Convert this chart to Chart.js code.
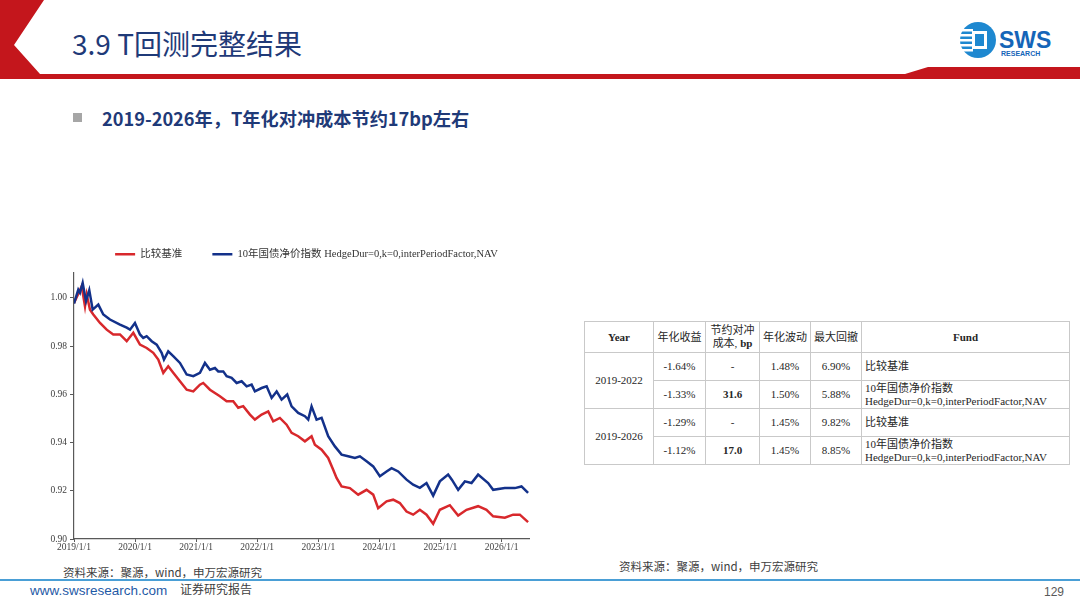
<!DOCTYPE html>
<html><head><meta charset="utf-8">
<script src="https://cdn.jsdelivr.net/npm/chart.js@4.4.1/dist/chart.umd.min.js"></script>
<style>
body{margin:0;width:1080px;height:608px;position:relative;background:#fff;overflow:hidden;font-family:'Noto Sans CJK SC',sans-serif;}
.abs{position:absolute;white-space:nowrap;}
#title{left:72px;top:25px;font-size:28px;line-height:36px;color:#1f3a78;font-family:'Liberation Sans Narrow','Noto Sans CJK SC',sans-serif;}
#sub{left:102px;top:105px;font-size:18.2px;line-height:26px;color:#1f3a78;font-weight:bold;}
#bullet{left:73px;top:113px;width:9px;height:9px;background:#a6a6a6;}
.src{font-size:11.5px;color:#404040;line-height:16px;}
#foot1{left:30px;top:583px;font-size:13.5px;color:#1f5aa6;font-family:'Liberation Sans Narrow','Liberation Sans',sans-serif;line-height:16px;}
#foot2{left:180px;top:581px;font-size:12px;color:#404040;line-height:16px;}
#page{left:1044px;top:584px;font-size:12px;color:#595959;font-family:'Liberation Sans Narrow','Liberation Sans',sans-serif;line-height:16px;}
#chartBox{left:40px;top:219px;width:500px;height:341px;}
#tbl{left:584px;top:321px;}
table{border-collapse:collapse;font-family:'Liberation Serif','Noto Sans CJK SC',serif;font-size:11px;color:#262626;}
td{border:1px solid #c9c9c9;text-align:center;padding:0 2px;line-height:13px;}
td.fund{text-align:left;padding-left:3px;}
</style>
</head><body>
<svg class="abs" style="left:0;top:0" width="1080" height="90">
  <polygon points="0,0 44,0 14,45 40,74 905,74 928,67 1080,67 1080,79 0,79" fill="#c4161c"/>
  <circle cx="978" cy="40" r="18" fill="#1e88d0"/>
  <rect x="961" y="29" width="12" height="2.5" fill="#fff"/>
  <rect x="960" y="34" width="12" height="2.5" fill="#fff"/>
  <rect x="960" y="39" width="12" height="2.5" fill="#fff"/>
  <rect x="960" y="44" width="12" height="2.5" fill="#fff"/>
  <rect x="961" y="49" width="12" height="2.5" fill="#fff"/>
  <rect x="972" y="31" width="15" height="18" fill="#fff"/>
  <rect x="975" y="34" width="9" height="12" fill="#1e88d0"/>
  <text x="999" y="48" font-family="Liberation Sans, sans-serif" font-weight="bold" font-size="23" fill="#1565b8">SWS</text>
  <text x="1001" y="56" font-family="Liberation Sans, sans-serif" font-weight="bold" font-size="7" fill="#1565b8">RESEARCH</text>
</svg>
<div id="title" class="abs">3.9 T回测完整结果</div>
<div id="bullet" class="abs"></div>
<div id="sub" class="abs">2019-2026年，T年化对冲成本节约17bp左右</div>
<div id="chartBox" class="abs"><canvas id="c"></canvas></div>
<div id="tbl" class="abs"></div>
<div class="abs src" style="left:63px;top:564px;">资料来源：聚源，wind，申万宏源研究</div>
<div class="abs src" style="left:619px;top:558px;">资料来源：聚源，wind，申万宏源研究</div>
<div class="abs" style="left:0;top:579px;width:1080px;height:2px;background:#4a9fd6;"></div>
<div id="foot1" class="abs">www.swsresearch.com</div>
<div id="foot2" class="abs">证券研究报告</div>
<div id="page" class="abs">129</div>
<script>
// ---- data (x = fractional year, y = NAV) ----
const seriesNames = ['比较基准', '10年国债净价指数 HedgeDur=0,k=0,interPeriodFactor,NAV'];
const redX = [2019.000,2019.065,2019.126,2019.180,2019.208,2019.262,2019.316,2019.426,2019.535,2019.643,2019.753,2019.863,2019.971,2020.080,2020.190,2020.298,2020.380,2020.462,2020.543,2020.625,2020.735,2020.845,2020.953,
  2021.062,2021.116,2021.226,2021.389,2021.499,2021.607,2021.689,2021.771,2021.881,2021.962,2022.072,2022.180,2022.262,2022.371,2022.481,2022.563,2022.671,2022.781,2022.890,2022.944,2023.054,2023.162,2023.244,2023.299,
  2023.381,2023.517,2023.653,2023.790,2023.899,2023.980,2024.118,2024.226,2024.335,2024.445,2024.553,2024.663,2024.772,2024.881,2024.990,2025.154,2025.290,2025.427,2025.617,2025.754,2025.863,2026.054,2026.190,2026.300,2026.435];
const redY = [0.9979,1.0014,1.0048,0.9965,1.0014,0.9951,0.9931,0.9896,0.9868,0.9848,0.9848,0.9820,0.9855,0.9806,0.9792,0.9772,0.9744,0.9689,0.9716,0.9689,0.9654,0.9619,0.9612,
  0.9640,0.9647,0.9619,0.9592,0.9571,0.9571,0.9544,0.9551,0.9516,0.9495,0.9516,0.9529,0.9488,0.9502,0.9474,0.9440,0.9426,0.9405,0.9426,0.9391,0.9370,0.9336,0.9287,0.9253,
  0.9218,0.9211,0.9184,0.9204,0.9184,0.9128,0.9156,0.9163,0.9149,0.9114,0.9101,0.9121,0.9101,0.9063,0.9121,0.9140,0.9097,0.9121,0.9136,0.9121,0.9094,0.9088,0.9101,0.9101,0.9070];
const blueX = [2019.000,2019.070,2019.098,2019.142,2019.196,2019.250,2019.306,2019.398,2019.480,2019.589,2019.753,2019.863,2019.917,2019.998,2020.080,2020.134,2020.190,2020.272,2020.354,2020.435,2020.473,2020.543,2020.625,2020.735,2020.845,2020.953,
  2021.062,2021.144,2021.226,2021.308,2021.362,2021.444,2021.499,2021.581,2021.663,2021.745,2021.827,2021.908,2021.962,2022.072,2022.154,2022.236,2022.318,2022.399,2022.491,2022.563,2022.671,2022.781,2022.835,2022.890,2022.972,2023.054,2023.162,2023.272,2023.381,2023.489,2023.599,2023.681,2023.790,2023.899,2024.008,2024.118,2024.200,2024.308,
  2024.445,2024.553,2024.663,2024.772,2024.881,2024.990,2025.126,2025.187,2025.290,2025.400,2025.509,2025.617,2025.781,2025.863,2026.054,2026.218,2026.327,2026.435];
const blueY = [0.9976,1.0034,1.0021,1.0062,0.9986,1.0032,0.9951,0.9972,0.9931,0.9910,0.9889,0.9876,0.9868,0.9896,0.9848,0.9834,0.9841,0.9820,0.9806,0.9772,0.9744,0.9778,0.9758,0.9730,0.9682,0.9675,
  0.9689,0.9730,0.9702,0.9709,0.9695,0.9695,0.9675,0.9668,0.9647,0.9654,0.9633,0.9640,0.9612,0.9626,0.9633,0.9585,0.9612,0.9578,0.9599,0.9550,0.9523,0.9509,0.9495,0.9550,0.9495,0.9502,0.9426,0.9384,0.9350,0.9343,0.9336,0.9343,0.9322,0.9301,0.9260,0.9280,0.9294,0.9280,
  0.9246,0.9225,0.9212,0.9232,0.9180,0.9239,0.9267,0.9246,0.9204,0.9239,0.9232,0.9267,0.9232,0.9204,0.9211,0.9211,0.9218,0.9191];
const xTickYears = [2019,2020,2021,2022,2023,2024,2025,2026];
const yTicks = [0.90,0.92,0.94,0.96,0.98,1.00];

// ---- table data ----
const tblHeader = ['Year','年化收益','节约对冲<br>成本, <b>bp</b>','年化波动','最大回撤','Fund'];
const tblPeriods = ['2019-2022','2019-2026'];
const tblReturn = ['-1.64%','-1.33%','-1.29%','-1.12%'];
const tblSaving = ['-','31.6','-','17.0'];
const tblVol = ['1.48%','1.50%','1.45%','1.45%'];
const tblMdd = ['6.90%','5.88%','9.82%','8.85%'];
const tblFund = ['比较基准','10年国债净价指数<br>HedgeDur=0,k=0,interPeriodFactor,NAV','比较基准','10年国债净价指数<br>HedgeDur=0,k=0,interPeriodFactor,NAV'];

// build table
(function(){
  const widths=[69,52,54,51,51,208];
  let h='<table><colgroup>'+widths.map(w=>'<col style="width:'+w+'px">').join('')+'</colgroup>';
  h+='<tr style="height:31px">'+tblHeader.map((t,i)=>'<td style="'+(i===0||i===5?'font-weight:bold;':'')+'">'+t+'</td>').join('')+'</tr>';
  for(let r=0;r<4;r++){
    h+='<tr style="height:28px">';
    if(r%2===0) h+='<td rowspan="2">'+tblPeriods[r/2]+'</td>';
    h+='<td>'+tblReturn[r]+'</td><td style="'+(tblSaving[r]!=='-'?'font-weight:bold':'')+'">'+tblSaving[r]+'</td><td>'+tblVol[r]+'</td><td>'+tblMdd[r]+'</td><td class="fund">'+tblFund[r]+'</td></tr>';
  }
  h+='</table>';
  document.getElementById('tbl').innerHTML=h;
})();

const toPts=(xs,ys)=>xs.map((x,i)=>({x:x,y:ys[i]}));
const serif="'Liberation Serif','Noto Sans CJK SC',serif";
const legendExtra={id:'legendExtra',
  beforeInit(chart){const fit=chart.legend.fit;chart.legend.fit=function(){fit.call(this);this.height+=3;};},
  afterLayout(chart){chart.legend.left+=22;chart.legend.right+=22;}
};

new Chart(document.getElementById('c'),{
  type:'line',
  data:{datasets:[
    {label:seriesNames[0],data:toPts(redX,redY),borderColor:'#d8282c',backgroundColor:'#d8282c',borderWidth:2.5,pointRadius:0,tension:0,order:2},
    {label:seriesNames[1],data:toPts(blueX,blueY),borderColor:'#13318a',backgroundColor:'#13318a',borderWidth:2.5,pointRadius:0,tension:0,order:1}
  ]},
  options:{
    responsive:true,maintainAspectRatio:false,animation:false,
    layout:{padding:{left:0,right:11,top:0,bottom:0}},
    plugins:{
      legend:{display:true,position:'top',align:'center',
        labels:{usePointStyle:true,pointStyle:'line',pointStyleWidth:20,padding:30,color:'#333',
          font:{family:serif,size:10.5},
          sort:(a,b)=>a.datasetIndex-b.datasetIndex}},
      tooltip:{enabled:false}
    },
    scales:{
      x:{type:'linear',min:2019,max:2026.45,
        afterFit:s=>{s.height=21;},
        afterBuildTicks:s=>{s.ticks=xTickYears.map(v=>({value:v}));},
        ticks:{autoSkip:false,maxRotation:0,padding:0,color:'#404040',font:{family:serif,size:9.5},callback:v=>v+'/1/1'},
        grid:{display:true,drawOnChartArea:false,drawTicks:true,tickLength:3,color:'#595959'},
        border:{display:true,color:'#595959',width:1.2}},
      y:{type:'linear',min:0.90,max:1.0105,
        afterFit:s=>{s.width=34;},
        afterBuildTicks:s=>{s.ticks=yTicks.map(v=>({value:v}));},
        ticks:{padding:3,color:'#404040',font:{family:serif,size:9.5},callback:v=>v.toFixed(2)},
        grid:{display:true,drawOnChartArea:false,drawTicks:true,tickLength:4,color:'#595959'},
        border:{display:true,color:'#595959',width:1.2}}
    }
  },
  plugins:[legendExtra]
});
</script>
</body></html>
